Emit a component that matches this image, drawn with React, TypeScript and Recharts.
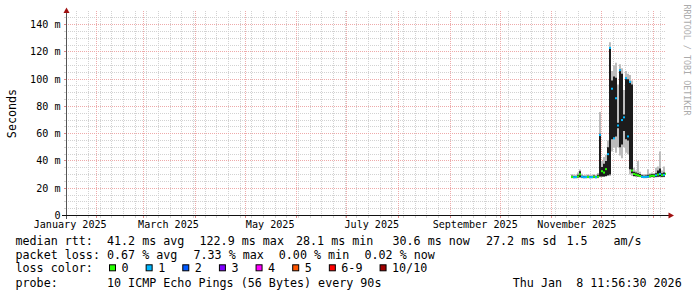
import React from 'react';
import { ComposedChart, Area, Scatter, XAxis, YAxis, CartesianGrid, ReferenceLine } from 'recharts';

const DAY_MS = 86400000;
const RANGE_START = Date.UTC(2025, 0, 13, 11, 56, 30);
const RANGE_END = Date.UTC(2026, 0, 8, 11, 56, 30);

// samples of the consolidated RRA (first sample and spacing)
const FIRST_SAMPLE = Date.UTC(2025, 10, 12, 11, 56, 30);
const SAMPLE_STEP_DAYS = 1.2;

const medianMs = [
  28.3, 28.1, 28.2, 28.6, 30.2, 28.4, 28.1, 28.2, 28.3, 28.1, 28.2, 28.4, 28.1, 28.5,
  59.0, 32.5, 31.5, 34.0, 45.0, 122.9, 93.0, 56.6, 86.0, 66.0, 106.6, 70.0, 72.0, 100.7,
  58.0, 98.0, 33.0, 30.5, 30.0, 29.5, 29.0, 28.4, 28.2, 28.3, 28.5, 28.8, 29.2, 29.0,
  29.5, 30.0, 30.5, 29.5, 29.8, 30.6,
];
const lostPings = [
  0, 1, 1, 0, 0, 1, 1, 1, 0, 1, 1, 0, 1, 0,
  1, 0, 0, 0, 1, 1, 1, 1, 1, 1, 1, 1, 1, 1,
  1, 1, 0, 0, 0, 0, 0, 1, 1, 1, 1, 0, 0, 0,
  1, 0, 1, 0, 1, 0,
];
const smokeLowMs = [
  27.3, 27.2, 27.2, 27.4, 27.6, 27.3, 27.2, 27.2, 27.3, 27.2, 27.2, 27.3, 27.2, 27.4,
  28.0, 28.2, 28.2, 28.5, 29.0, 29.0, 47.0, 50.0, 46.0, 50.0, 44.0, 42.0, 50.0, 46.0,
  45.0, 30.0, 29.0, 28.5, 28.4, 28.2, 28.0, 27.5, 27.4, 27.4, 27.5, 27.6, 27.8, 27.7,
  27.8, 28.0, 28.2, 27.9, 28.0, 28.2,
];
const coreLowMs = [
  27.6, 27.5, 27.5, 27.8, 28.0, 27.6, 27.5, 27.5, 27.6, 27.5, 27.5, 27.6, 27.5, 27.8,
  28.6, 28.6, 28.6, 29.0, 29.5, 30.0, 56.0, 57.0, 58.0, 64.0, 50.0, 52.0, 62.0, 56.0,
  55.0, 34.0, 31.0, 29.0, 28.8, 28.6, 28.4, 27.8, 27.7, 27.7, 27.8, 28.0, 28.2, 28.1,
  28.3, 28.5, 28.6, 28.3, 28.4, 28.6,
];
const coreHighMs = [
  29.2, 29.0, 29.0, 29.8, 32.5, 29.2, 28.9, 29.0, 29.2, 29.0, 29.0, 29.3, 29.0, 29.8,
  60.0, 35.5, 38.0, 40.0, 50.0, 122.5, 99.0, 102.0, 101.0, 68.0, 107.0, 104.0, 74.0, 101.0,
  100.0, 98.5, 96.0, 32.0, 31.5, 31.0, 30.5, 29.5, 29.2, 29.3, 29.8, 30.0, 30.4, 30.2,
  31.0, 33.0, 34.5, 31.0, 31.5, 32.0,
];
const smokeHighMs = [
  30.2, 30.0, 29.8, 31.5, 33.8, 30.6, 29.7, 29.8, 30.0, 29.8, 29.9, 30.2, 29.8, 31.2,
  76.0, 40.0, 43.0, 44.5, 55.0, 127.0, 106.0, 110.0, 112.0, 96.0, 111.0, 108.0, 92.0, 106.0,
  104.0, 103.0, 99.0, 35.0, 33.0, 40.0, 32.0, 30.5, 30.2, 30.4, 34.0, 31.0, 31.5, 31.2,
  35.0, 36.0, 47.0, 33.0, 36.0, 34.0,
];

const yTickValues = [0, 20, 40, 60, 80, 100, 120, 140];
const yTickLabels = ['0', '20 m', '40 m', '60 m', '80 m', '100 m', '120 m', '140 m'];
const xTickValues = [
  Date.UTC(2025, 0, 16), Date.UTC(2025, 2, 16), Date.UTC(2025, 4, 16),
  Date.UTC(2025, 6, 16), Date.UTC(2025, 8, 16), Date.UTC(2025, 10, 16),
];
const xTickLabels = ['January 2025', 'March 2025', 'May 2025', 'July 2025', 'September 2025', 'November 2025'];

const lossColors = ['#26ff00', '#00b8ff', '#0059ff', '#7e00ff', '#ff00ff', '#ff5500', '#ff0000', '#a00000'];
const lossLegendLabels = ['0', '1', '2', '3', '4', '5', '6-9', '10/10'];

const data = medianMs.map((m, i) => ({
  t: FIRST_SAMPLE + i * SAMPLE_STEP_DAYS * DAY_MS,
  med: m,
  loss: lostPings[i],
  smoke: [smokeLowMs[i], smokeHighMs[i]],
  core: [coreLowMs[i], coreHighMs[i]],
}));

// grid positions
const monthStarts: number[] = [];
for (let m = 1; m <= 12; m++) monthStarts.push(Date.UTC(2025, m, 1));
const mondays: number[] = [];
for (let t = Date.UTC(2025, 0, 20); t < RANGE_END; t += 7 * DAY_MS) mondays.push(t);
const minorY: number[] = [];
const majorY: number[] = [];
for (let v = 5; v <= 145; v += 5) (v % 20 === 0 ? majorY : minorY).push(v);

const MONO = '"DejaVu Sans Mono", monospace';
const MINOR = '#d2d2d2';
const MAJOR = '#eeaaaa';

const YTick = (props: any) => {
  const { x, y, payload } = props;
  const idx = yTickValues.indexOf(payload.value);
  return (
    <text x={x - 5.5} y={y + 3.4} textAnchor="end" fontFamily={MONO} fontSize={10.1} fill="#000">
      {idx >= 0 ? yTickLabels[idx] : ''}
    </text>
  );
};

const XTick = (props: any) => {
  const { x, y, payload } = props;
  const idx = xTickValues.indexOf(payload.value);
  return (
    <text x={x} y={y + 12.3} textAnchor="middle" fontFamily={MONO} fontSize={10.1} fill="#000">
      {idx >= 0 ? xTickLabels[idx] : ''}
    </text>
  );
};

const MedianMark = (props: any) => {
  const { cx, cy, payload } = props;
  if (cx == null || cy == null) return <g />;
  return <rect x={cx} y={cy - 1} width={2} height={2} fill={lossColors[payload.loss]} />;
};

const TICK_DAYS = 1.2 * DAY_MS;

const legendLine1: [string, number][] = [
  ['median rtt:', 15.5], ['41.2 ms avg', 107], ['122.9 ms max', 199.5], ['28.1 ms min', 296],
  ['30.6 ms now', 392.5], ['27.2 ms sd', 486], ['1.5', 566.5], ['am/s', 613.5],
];
const legendLine2: [string, number][] = [
  ['packet loss:', 15.5], ['0.67 % avg', 107], ['7.33 % max', 193.5], ['0.00 % min', 278.8], ['0.02 % now', 364.5],
];
const legendLine4: [string, number][] = [
  ['probe:', 15.5], ['10 ICMP Echo Pings (56 Bytes) every 90s', 107], ['Thu Jan  8 11:56:30 2026', 512.8],
];

export default function App() {
  const boxes: { x: number; label: string; color: string }[] = [];
  let bx = 109.3;
  lossLegendLabels.forEach((lab, i) => {
    boxes.push({ x: bx, label: lab, color: lossColors[i] });
    bx += 29.6 + 7.04 * lab.length;
  });

  const textStyle: React.CSSProperties = { whiteSpace: 'pre' };

  return (
    <div style={{ position: 'absolute', left: 0, top: 0, width: 697, height: 297, background: '#fff' }}>
      <ComposedChart width={697} height={297} data={data} margin={{ top: 11, right: 31, bottom: 51.5, left: 0 }}>
        <CartesianGrid verticalValues={mondays} horizontalValues={minorY} stroke={MINOR} strokeDasharray="1 1" shapeRendering="crispEdges" />
        <CartesianGrid verticalValues={monthStarts} horizontalValues={majorY} stroke={MAJOR} strokeDasharray="1 1" shapeRendering="crispEdges" />
        <XAxis
          dataKey="t"
          type="number"
          domain={[RANGE_START, RANGE_END]}
          ticks={xTickValues}
          interval={0}
          height={30}
          axisLine={false}
          tickLine={false}
          tickSize={0}
          tickMargin={0}
          tick={XTick}
          allowDataOverflow
        />
        <YAxis
          type="number"
          domain={[0, 150]}
          ticks={yTickValues}
          interval={0}
          width={66}
          axisLine={false}
          tickLine={false}
          tickSize={0}
          tickMargin={0}
          tick={YTick}
          allowDataOverflow
        />
        {mondays.map((t) => (
          <ReferenceLine key={'mb' + t} segment={[{ x: t, y: 0 }, { x: t, y: -1.6 }]} stroke={MINOR} ifOverflow="visible" shapeRendering="crispEdges" />
        ))}
        {monthStarts.map((t) => (
          <ReferenceLine key={'Mb' + t} segment={[{ x: t, y: 0 }, { x: t, y: -1.6 }]} stroke="#dd8888" ifOverflow="visible" shapeRendering="crispEdges" />
        ))}
        {minorY.map((v) => (
          <ReferenceLine key={'ml' + v} segment={[{ x: RANGE_START - TICK_DAYS, y: v }, { x: RANGE_START, y: v }]} stroke={MINOR} ifOverflow="visible" shapeRendering="crispEdges" />
        ))}
        {majorY.map((v) => (
          <ReferenceLine key={'Ml' + v} segment={[{ x: RANGE_START - TICK_DAYS, y: v }, { x: RANGE_START, y: v }]} stroke="#dd8888" ifOverflow="visible" shapeRendering="crispEdges" />
        ))}
        <Area dataKey="smoke" type="stepAfter" stroke="none" fill="#bdbdbd" fillOpacity={1} isAnimationActive={false} />
        <Area dataKey="core" type="stepAfter" stroke="none" fill="#1c1c1c" fillOpacity={1} isAnimationActive={false} />
        <Scatter dataKey="med" shape={MedianMark} isAnimationActive={false} />
      </ComposedChart>

      <svg width={697} height={297} style={{ position: 'absolute', left: 0, top: 0, pointerEvents: 'none' }}>
        {/* axes */}
        <line x1={66.5} y1={219} x2={66.5} y2={12} stroke="#555" strokeWidth={1} />
        <line x1={62} y1={215.5} x2={669} y2={215.5} stroke="#111" strokeWidth={1} />
        <polygon points="63.5,13 69.5,13 66.5,7.5" fill="#a01010" />
        <polygon points="668.5,212.5 668.5,218.5 674,215.5" fill="#a01010" />

        <text transform="translate(15.5,113.5) rotate(-90)" textAnchor="middle" fontFamily={MONO} fontSize={11.7} fill="#000">
          Seconds
        </text>
        <text transform="translate(683.5,60) rotate(90)" textAnchor="middle" fontFamily={MONO} fontSize={8.4} fill="#ababab">
          RRDTOOL / TOBI OETIKER
        </text>

        {legendLine1.map(([s, x]) => (
          <text key={'l1' + s} x={x} y={245} fontFamily={MONO} fontSize={11.7} fill="#000" style={textStyle}>{s}</text>
        ))}
        {legendLine2.map(([s, x]) => (
          <text key={'l2' + s} x={x} y={258.6} fontFamily={MONO} fontSize={11.7} fill="#000" style={textStyle}>{s}</text>
        ))}
        <text x={15.5} y={272.3} fontFamily={MONO} fontSize={11.7} fill="#000" style={textStyle}>loss color:</text>
        {boxes.map((b) => (
          <g key={'b' + b.label}>
            <rect x={b.x + 0.2} y={264.8} width={6} height={6} fill={b.color} stroke="#000" strokeWidth={1} />
            <text x={b.x + 12.2} y={272.3} fontFamily={MONO} fontSize={11.7} fill="#000" style={textStyle}>{b.label}</text>
          </g>
        ))}
        {legendLine4.map(([s, x]) => (
          <text key={'l4' + s} x={x} y={286.6} fontFamily={MONO} fontSize={11.7} fill="#000" style={textStyle}>{s}</text>
        ))}
      </svg>
    </div>
  );
}
